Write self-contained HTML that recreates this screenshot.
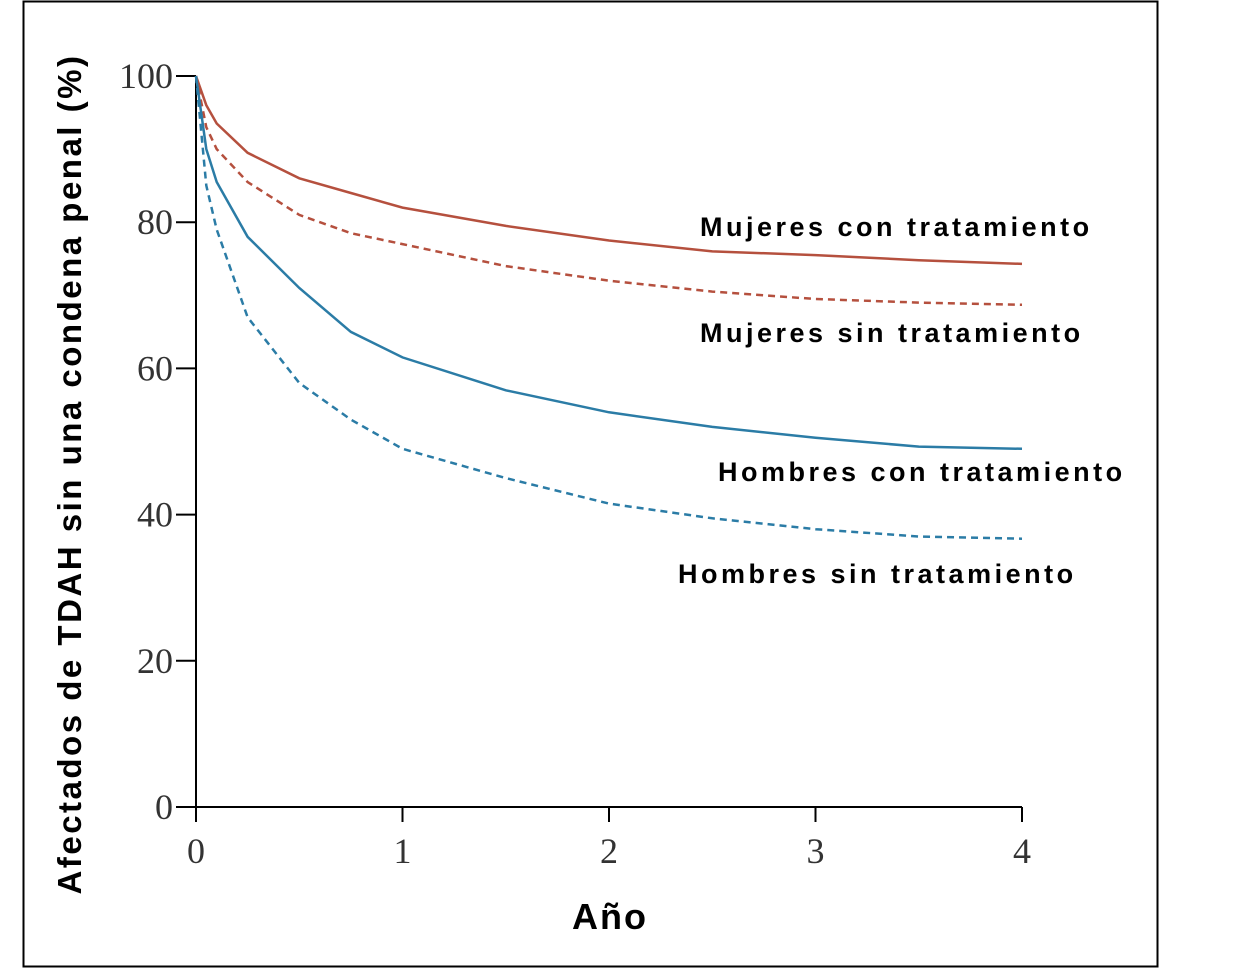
<!DOCTYPE html>
<html><head><meta charset="utf-8"><style>
html,body{margin:0;padding:0;background:#fff;}
svg{display:block;}
</style></head><body>
<svg id="chart" width="1246" height="969" xmlns="http://www.w3.org/2000/svg">
<rect x="23.5" y="1.5" width="1134" height="965" fill="#fff" stroke="#000" stroke-width="2"/>
<g id="axes"></g>
<g id="series"></g>
<text transform="translate(81,474) rotate(-90)" text-anchor="middle" font-family="Liberation Sans, sans-serif" font-weight="bold" font-size="33" letter-spacing="2.5" fill="#000">Afectados de TDAH sin una condena penal (%)</text>
<text x="610" y="929" text-anchor="middle" font-family="Liberation Sans, sans-serif" font-weight="bold" font-size="36" letter-spacing="2" fill="#000">Año</text>
<g font-family="Liberation Sans, sans-serif" font-weight="bold" font-size="27" letter-spacing="3.5" fill="#000">
<text x="700" y="236">Mujeres con tratamiento</text>
<text x="700" y="342">Mujeres sin tratamiento</text>
<text x="718" y="481">Hombres con tratamiento</text>
<text x="678" y="583">Hombres sin tratamiento</text>
</g>
</svg>
<script>
const times = [0, 0.05, 0.1, 0.25, 0.5, 0.75, 1, 1.5, 2, 2.5, 3, 3.5, 4];
const mujeresCon = [100, 96, 93.5, 89.5, 86, 84, 82, 79.5, 77.5, 76, 75.5, 74.8, 74.3];
const mujeresSin = [100, 93, 90, 85.5, 81, 78.5, 77, 74, 72, 70.5, 69.5, 69, 68.7];
const hombresCon = [100, 90, 85.5, 78, 71, 65, 61.5, 57, 54, 52, 50.5, 49.3, 49];
const hombresSin = [100, 85, 79, 67, 58, 53, 49, 45, 41.5, 39.5, 38, 37, 36.7];
const yTicks = [0, 20, 40, 60, 80, 100];
const xTicks = [0, 1, 2, 3, 4];

const NS = "http://www.w3.org/2000/svg";
const X0 = 196, X1 = 1022, Y0 = 807, Y100 = 76;
function xs(t){ return X0 + (X1 - X0) * t / 4; }
function ys(v){ return Y0 - (Y0 - Y100) * v / 100; }
function mk(tag, attrs, parent){ const e = document.createElementNS(NS, tag); for (const k in attrs) e.setAttribute(k, attrs[k]); parent.appendChild(e); return e; }

const axes = document.getElementById('axes');
const yAxis = mk('line', {x1:X0, y1:Y100, x2:X0, y2:Y0, stroke:'#000', 'stroke-width':2}, axes);


const xAxis = mk('line', {x1:X0, y1:Y0, x2:X1, y2:Y0, stroke:'#000', 'stroke-width':2}, axes);


yTicks.forEach(v => {
  const t = mk('line', {x1:176, y1:ys(v), x2:X0, y2:ys(v), stroke:'#000', 'stroke-width':2}, axes);
  
  
  const l = mk('text', {x:173, y:ys(v)+12, 'text-anchor':'end', 'font-family':'Liberation Serif, serif', 'font-size':36, fill:'#333'}, axes);
  l.textContent = v;
  
  
});
xTicks.forEach(v => {
  const t = mk('line', {x1:xs(v), y1:Y0, x2:xs(v), y2:822, stroke:'#000', 'stroke-width':2}, axes);
  
  
  const l = mk('text', {x:xs(v), y:863, 'text-anchor':'middle', 'font-family':'Liberation Serif, serif', 'font-size':36, fill:'#333'}, axes);
  l.textContent = v;
  
  
});

const series = document.getElementById('series');
function drawLine(vals, color, dash, name){
  const pts = vals.map((v,i) => xs(times[i]).toFixed(1) + ',' + ys(v).toFixed(1)).join(' ');
  const p = mk('polyline', {points:pts, fill:'none', stroke:color, 'stroke-width':2.5, 'stroke-dasharray':dash}, series);
  
  
}
drawLine(mujeresCon, '#b5503e', 'none', 'line-mujeres-con-tratamiento');
drawLine(mujeresSin, '#b5503e', '7,5', 'line-mujeres-sin-tratamiento');
drawLine(hombresCon, '#2b7ca6', 'none', 'line-hombres-con-tratamiento');
drawLine(hombresSin, '#2b7ca6', '7,5', 'line-hombres-sin-tratamiento');
</script>
</body></html>
